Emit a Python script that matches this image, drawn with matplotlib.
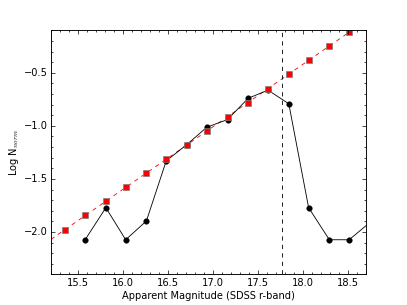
import matplotlib
matplotlib.use("Agg")
import matplotlib.pyplot as plt
import numpy as np

# magnitude bins
mag_red = [15.36, 15.58, 15.81, 16.03, 16.26, 16.48, 16.71, 16.93, 17.16,
           17.39, 17.61, 17.84, 18.06, 18.29, 18.51]
lognorm_red = [-1.978, -1.843, -1.711, -1.579, -1.447, -1.315, -1.176, -1.044,
               -0.915, -0.783, -0.651, -0.513, -0.381, -0.249, -0.117]

mag_black = [15.58, 15.81, 16.03, 16.26, 16.48, 16.71, 16.93, 17.16, 17.39,
             17.61, 17.84, 18.06, 18.29, 18.51, 18.74]
lognorm_black = [-2.073, -1.771, -2.073, -1.896, -1.330, -1.176, -1.013, -0.941,
                 -0.740, -0.664, -0.792, -1.771, -2.073, -2.073, -1.91]

mag_limit = 17.77

plt.style.use("classic")
plt.rcParams["font.size"] = 14
fig = plt.figure(figsize=(8, 6), dpi=50.875)
ax = fig.add_subplot(111)

# linear fit to the red points
p = np.polyfit(mag_red, lognorm_red, 1)
xx = np.array([15.2, 18.7])
ax.plot(xx, np.polyval(p, xx), "r--", lw=1.2)

ax.plot(mag_black, lognorm_black, "k-", marker="o", ms=8, mec="k", lw=1.2)
ax.plot(mag_red, lognorm_red, "s", color="red", ms=9, mec="gray", mew=1)
ax.axvline(mag_limit, color="k", ls="--", lw=1.2)

ax.set_xlim(15.2, 18.7)
ax.set_ylim(-2.4, -0.1)
ax.set_xticks([15.5, 16.0, 16.5, 17.0, 17.5, 18.0, 18.5])
ax.set_yticks([-2.0, -1.5, -1.0, -0.5])
ax.xaxis.set_minor_locator(matplotlib.ticker.MultipleLocator(0.1))
ax.yaxis.set_minor_locator(matplotlib.ticker.MultipleLocator(0.1))
ax.tick_params(which="both", direction="in", top=True, right=True, width=1)
ax.tick_params(which="major", length=6, labelsize=14)
ax.tick_params(which="minor", length=3)
for s in ax.spines.values():
    s.set_linewidth(1.3)
ax.set_xlabel("Apparent Magnitude (SDSS r-band)", fontsize=14)
ax.set_ylabel(r"Log N$_{norm}$", fontsize=14)

fig.savefig("out.png", dpi=50.875)
